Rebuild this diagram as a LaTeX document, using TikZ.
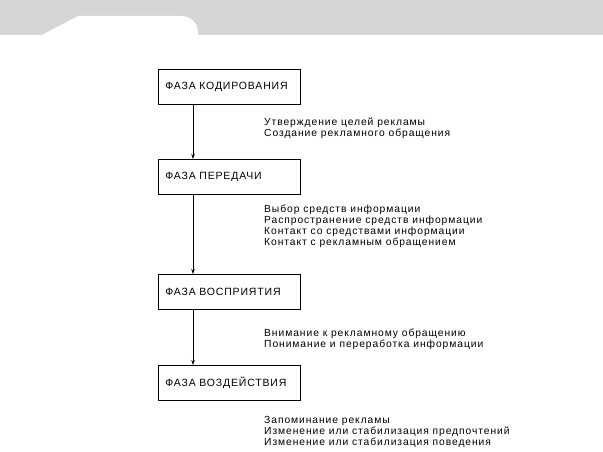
\documentclass[tikz,border=0pt]{standalone}
\usepackage{fontspec}
\setmainfont{Liberation Sans}
\newfontfamily\widesans[LetterSpace=9]{Liberation Sans}
\newfontfamily\widecaps[LetterSpace=8]{Liberation Sans}
\usetikzlibrary{arrows.meta}
\definecolor{band}{HTML}{D5D5D5}
\begin{document}
\begin{tikzpicture}[x=1pt,y=-1pt,
  phase/.style={draw,line width=0.8pt,minimum width=142pt,minimum height=35pt,anchor=north west,inner xsep=7pt,text width=128pt,align=left,font=\widecaps\fontsize{10.5}{12}\selectfont},
  desc/.style={anchor=north west,inner sep=0pt,align=left,font=\widesans\fontsize{10.3}{11}\selectfont},
  flow/.style={line width=0.7pt,-{Stealth[length=5pt,width=3.5pt]}}]
\useasboundingbox (0,0) rectangle (603,452);
\fill[band] (0,0) rectangle (603,35);
\fill[white] (42,35) -- (78,16) -- (181,16) .. controls (191,16) and (198,23) .. (198,33) -- (198,35) -- cycle;
\node[phase] (p1) at (158,69) {ФАЗА КОДИРОВАНИЯ};
\node[phase] (p2) at (158,159) {ФАЗА ПЕРЕДАЧИ};
\node[phase] (p3) at (158,274) {ФАЗА ВОСПРИЯТИЯ};
\node[phase] (p4) at (158,365) {ФАЗА ВОЗДЕЙСТВИЯ};
\coordinate (a1) at (193,104);
\draw[flow] (p1.south -| a1) -- (p2.north -| a1);
\draw[flow] (p2.south -| a1) -- (p3.north -| a1);
\draw[flow] (p3.south -| a1) -- (p4.north -| a1);
\node[desc] (d1) at (264,118) {Утверждение целей рекламы\\Создание рекламного обращения};
\node[desc] (d2) at (264,205) {Выбор средств информации\\Распространение средств информации\\Контакт со средствами информации\\Контакт с рекламным обращением};
\node[desc] (d3) at (264,329) {Внимание к рекламному обращению\\Понимание и переработка информации};
\node[desc] (d4) at (264,416) {Запоминание рекламы\\Изменение или стабилизация предпочтений\\Изменение или стабилизация поведения};
\end{tikzpicture}
\end{document}
